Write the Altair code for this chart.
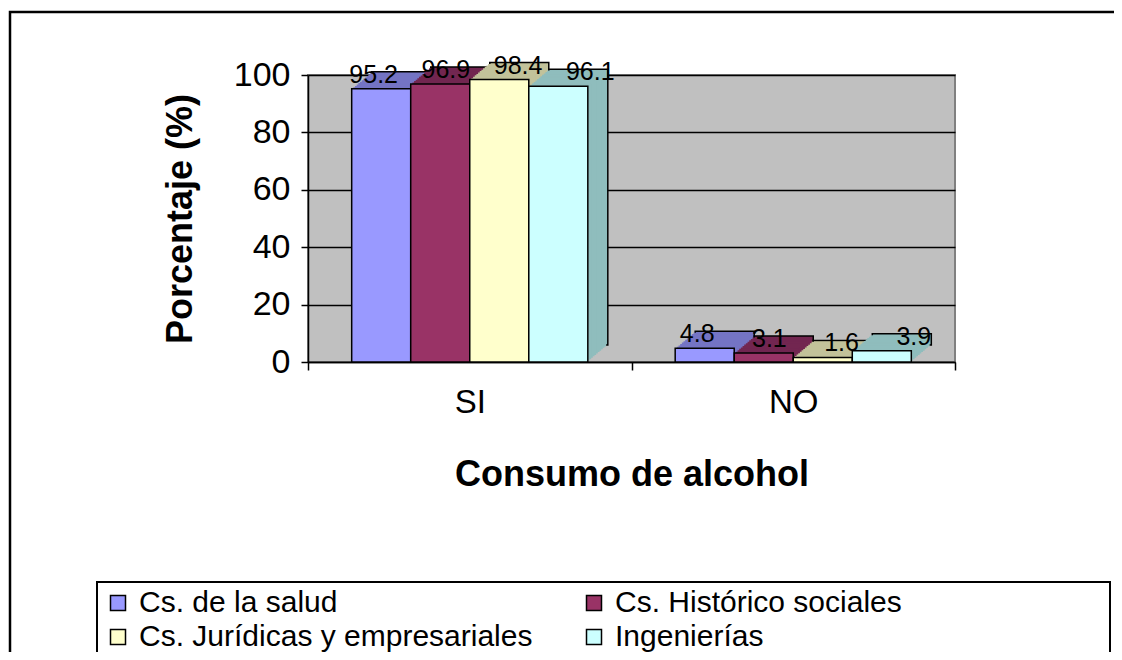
import altair as alt
import pandas as pd

categories = ["SI", "NO"]
series = [
    "Cs. de la salud",
    "Cs. Histórico sociales",
    "Cs. Jurídicas y empresariales",
    "Ingenierías",
]
values_si = [95.2, 96.9, 98.4, 96.1]
values_no = [4.8, 3.1, 1.6, 3.9]
y_ticks = [0, 20, 40, 60, 80, 100]

colors = ["#9999FF", "#993366", "#FFFFCC", "#CCFFFF"]
depth_colors = ["#7474C4", "#722650", "#C2C29A", "#8FBDBD"]

rows = []
for cat, vals in zip(categories, [values_si, values_no]):
    for s, v in zip(series, vals):
        rows.append({"consumo": cat, "grupo": s, "pct": v, "label": f"{v:.1f}"})
df = pd.DataFrame(rows)

FONT = "Liberation Sans"
W, H = 647, 287
PAD_OUT = 0.74
DEPTH_X, DEPTH_Y, STEPS = 20, 17, 12

x_enc = alt.X(
    "consumo:N",
    sort=categories,
    scale=alt.Scale(paddingInner=0, paddingOuter=0),
    axis=alt.Axis(
        title="Consumo de alcohol",
        labelAngle=0,
        labelFontSize=33,
        labelFont=FONT,
        labelColor="black",
        labelPadding=16,
        tickBand="extent",
        tickSize=8,
        tickColor="black",
        tickWidth=1.5,
        domainColor="black",
        domainWidth=1.5,
        titleFontSize=36,
        titleFont=FONT,
        titleFontWeight="bold",
        titleColor="black",
        titlePadding=38,
    ),
)

# offset-scale geometry, used only to shift the depth faces sideways
band_w = W / len(categories)
sub_step = band_w / (len(series) + 2 * PAD_OUT)
outer_total = 2 * PAD_OUT * sub_step


def align_for(shift):
    return (outer_total / 2 + shift) / outer_total


def xo(shift):
    return alt.XOffset(
        "grupo:N",
        sort=series,
        scale=alt.Scale(paddingInner=0, paddingOuter=PAD_OUT, align=align_for(shift)),
    )


y_enc = alt.Y(
    "pct:Q",
    scale=alt.Scale(domain=[0, 100]),
    axis=alt.Axis(
        title="Porcentaje (%)",
        values=y_ticks,
        labelFontSize=34,
        labelFont=FONT,
        labelColor="black",
        labelPadding=11,
        tickSize=7,
        tickColor="black",
        tickWidth=1.5,
        domainColor="black",
        domainWidth=1.5,
        grid=True,
        gridColor="black",
        gridWidth=1.5,
        titleFontSize=36,
        titleFont=FONT,
        titleFontWeight="bold",
        titleColor="black",
        titlePadding=34,
    ),
)

base = alt.Chart(df).encode(x=x_enc, y=y_enc)

depth_layers = []
for i in range(STEPS, 0, -1):
    f = i / STEPS
    props = dict(yOffset=-DEPTH_Y * f)
    if i == STEPS:
        props.update(stroke="black", strokeWidth=1.5)
    depth_layers.append(
        base.mark_bar(**props).encode(
            xOffset=xo(DEPTH_X * f),
            color=alt.Color(
                "grupo:N",
                sort=series,
                scale=alt.Scale(domain=series, range=depth_colors),
                legend=None,
            ),
        )
    )

front = base.mark_bar(stroke="black", strokeWidth=1.5).encode(
    xOffset=xo(0),
    color=alt.Color(
        "grupo:N",
        sort=series,
        scale=alt.Scale(domain=series, range=colors),
        legend=alt.Legend(
            title=None,
            orient="none",
            direction="horizontal",
            legendX=-205,
            legendY=513,
            columns=2,
            columnPadding=46,
            rowPadding=4,
            symbolType="square",
            symbolSize=225,
            symbolStrokeColor="black",
            symbolStrokeWidth=1.5,
            symbolOpacity=1,
            labelFontSize=30,
            labelFont=FONT,
            labelColor="black",
            labelLimit=600,
            labelOffset=6,
            padding=0,
        ),
    ),
)

labels = base.mark_text(
    baseline="alphabetic", dy=-6, fontSize=25, font=FONT, color="black"
).encode(xOffset=xo(DEPTH_X / 2), text="label:N")

deco = pd.DataFrame({"d": [0]})
frame = alt.Chart(deco).mark_rect(
    fillOpacity=0, stroke="black", strokeWidth=2.5
).encode(
    x=alt.value(-298), x2=alt.value(900), y=alt.value(-63), y2=alt.value(700)
)
legend_box = alt.Chart(deco).mark_rect(
    fill="white", stroke="black", strokeWidth=2
).encode(
    x=alt.value(-211), x2=alt.value(802), y=alt.value(507), y2=alt.value(581)
)

chart = (
    alt.layer(frame, legend_box, *depth_layers, front, labels)
    .resolve_scale(color="independent", xOffset="independent")
    .properties(
        width=W,
        height=H,
        autosize=alt.AutoSizeParams(type="none"),
        padding={"left": 300, "top": 67, "right": 159, "bottom": 290},
        background="white",
    )
    .configure_view(fill="#C0C0C0", stroke="#808080", strokeWidth=2)
)

chart.save("out.html", embed_options={"renderer": "svg", "actions": False})
